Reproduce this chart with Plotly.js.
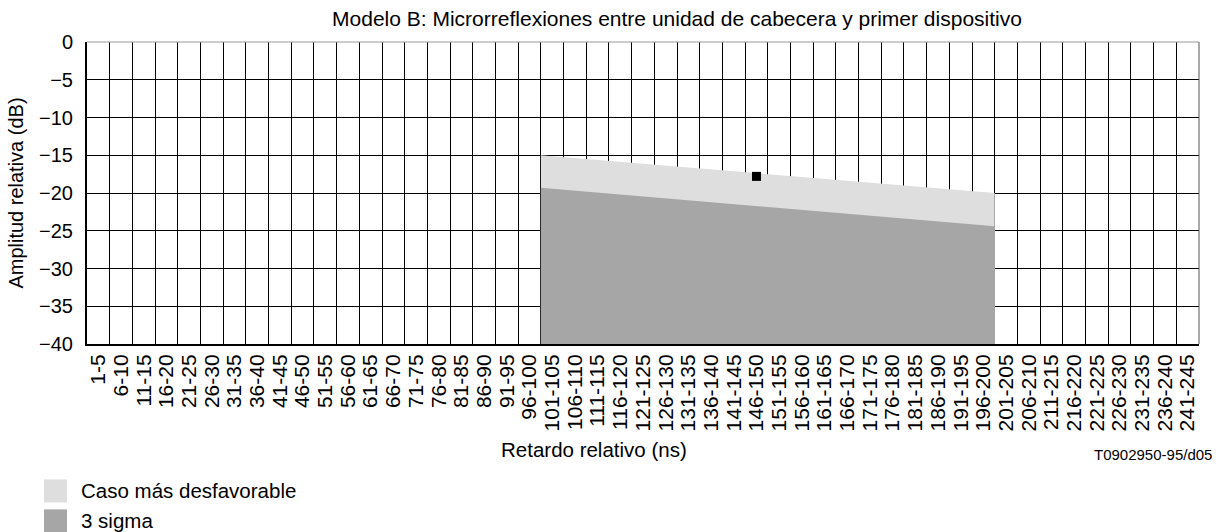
<!DOCTYPE html>
<html>
<head>
<meta charset="utf-8">
<script src="https://cdn.plot.ly/plotly-3.0.1.min.js"></script>
<style>html,body{margin:0;padding:0;background:#fff;}#chart{width:1223px;height:532px;}</style>
</head>
<body>
<div id="chart"></div>
<script>
// ---- data ----
const categories = ["1-5","6-10","11-15","16-20","21-25","26-30","31-35","36-40","41-45","46-50",
  "51-55","56-60","61-65","66-70","71-75","76-80","81-85","86-90","91-95","96-100",
  "101-105","106-110","111-115","116-120","121-125","126-130","131-135","136-140","141-145","146-150",
  "151-155","156-160","161-165","166-170","171-175","176-180","181-185","186-190","191-195","196-200",
  "201-205","206-210","211-215","216-220","221-225","226-230","231-235","236-240","241-245"];
const spanCategories = ["101-105", "196-200"];   // first and last bin covered by the areas
const worstCase = [-15, -20];                     // "Caso más desfavorable" top edge (start, end)
const threeSigma = [-19.3, -24.4];                // "3 sigma" top edge (start, end)
const pointCategory = ["146-150"];
const pointValue = [-17.8];
const yTicks = [0, -5, -10, -15, -20, -25, -30, -35, -40];
const seriesNames = ["Caso más desfavorable", "3 sigma"];
const seriesColors = ["#dedede", "#a6a6a6"];

// ---- build ----
const FONT = "'Liberation Sans', Arial, Helvetica, sans-serif";
const yMin = -40, yMax = 0;
const idx = c => categories.indexOf(c);
const xs = idx(spanCategories[0]) - 0.5, xe = idx(spanCategories[1]) + 0.5;
const tickIdx = categories.map((c, i) => i);
const bounds = categories.map((c, i) => i - 0.5).concat([categories.length - 0.5]);

function area(top, name, color) {
  return {
    type: 'scatter', mode: 'lines', name: name,
    x: [xs, xs, xe, xe], y: [yMin, top[0], top[1], yMin],
    fill: 'toself', fillcolor: color, line: {width: 0, color: color},
    hoverinfo: 'skip', showlegend: false
  };
}
const traces = [
  area(worstCase, seriesNames[0], seriesColors[0]),
  area(threeSigma, seriesNames[1], seriesColors[1]),
  {type: 'scatter', mode: 'markers', x: pointCategory.map(idx), y: pointValue,
   marker: {symbol: 'square', size: 9, color: '#000'}, showlegend: false}
];

// plot area in pixels
const L = 87, R = 1199, T = 42.3, B = 344.5, W = 1223, H = 532;
const px = x => (x - L) / (R - L);
const py = y => (B - y) / (B - T);

const shapes = [
  {type: 'line', xref: 'paper', yref: 'paper', x0: 0, x1: 1, y0: 1, y1: 1, line: {color: '#9a9a9a', width: 1}},
  {type: 'line', xref: 'paper', yref: 'paper', x0: 1, x1: 1, y0: 0, y1: 1, line: {color: '#555', width: 1}}
];
const annotations = [
  {xref: 'paper', yref: 'paper', x: px(594), y: py(450), xanchor: 'center', yanchor: 'middle',
   text: 'Retardo relativo (ns)', showarrow: false, font: {family: FONT, size: 20.5, color: '#000'}},
  {xref: 'paper', yref: 'paper', x: px(1214), y: py(455), xanchor: 'right', yanchor: 'middle',
   text: 'T0902950-95/d05', showarrow: false, font: {family: FONT, size: 15, color: '#000'}}
];
seriesNames.forEach((n, i) => {
  const top = 480 + i * 30;
  shapes.push({type: 'rect', xref: 'paper', yref: 'paper', x0: px(44), x1: px(67), y0: py(top), y1: py(top + 23),
    fillcolor: seriesColors[i], line: {width: 0}});
  annotations.push({xref: 'paper', yref: 'paper', x: px(79), y: py(top + 11.5), xanchor: 'left', yanchor: 'middle',
    text: n, showarrow: false, font: {family: FONT, size: 20.5, color: '#000'}});
});

const layout = {
  width: W, height: H,
  margin: {l: L, r: W - R, t: T, b: H - B, pad: 0},
  paper_bgcolor: '#fff', plot_bgcolor: '#fff',
  font: {family: FONT, size: 18, color: '#000'},
  showlegend: false,
  title: {text: 'Modelo B: Microrreflexiones entre unidad de cabecera y primer dispositivo',
    xref: 'paper', x: px(677), xanchor: 'center', yref: 'container', y: 1 - 19 / H, yanchor: 'middle',
    font: {family: FONT, size: 21, color: '#000'}},
  xaxis: {
    type: 'linear', range: [-0.5, categories.length - 0.5], fixedrange: true,
    tickmode: 'array', tickvals: tickIdx, ticktext: categories, tickangle: -90,
    ticks: '', showgrid: false, zeroline: false,
    showline: true, linecolor: '#000', linewidth: 2,
    tickfont: {family: FONT, size: 21, color: '#000'},
    minor: {tickmode: 'array', tickvals: bounds, showgrid: true, gridcolor: '#000', gridwidth: 1, ticks: ''}
  },
  yaxis: {
    range: [yMin, yMax], fixedrange: true,
    tickmode: 'array', tickvals: yTicks,
    ticks: '', ticklabelstandoff: 8,
    showgrid: true, gridcolor: '#000', gridwidth: 1, zeroline: false,
    showline: true, linecolor: '#000', linewidth: 2,
    tickfont: {family: FONT, size: 20, color: '#000'},
    title: {text: 'Amplitud relativa (dB)', standoff: 10, font: {family: FONT, size: 20, color: '#000'}}
  },
  shapes: shapes,
  annotations: annotations
};

Plotly.newPlot('chart', traces, layout, {staticPlot: true, displayModeBar: false});
</script>
</body>
</html>
